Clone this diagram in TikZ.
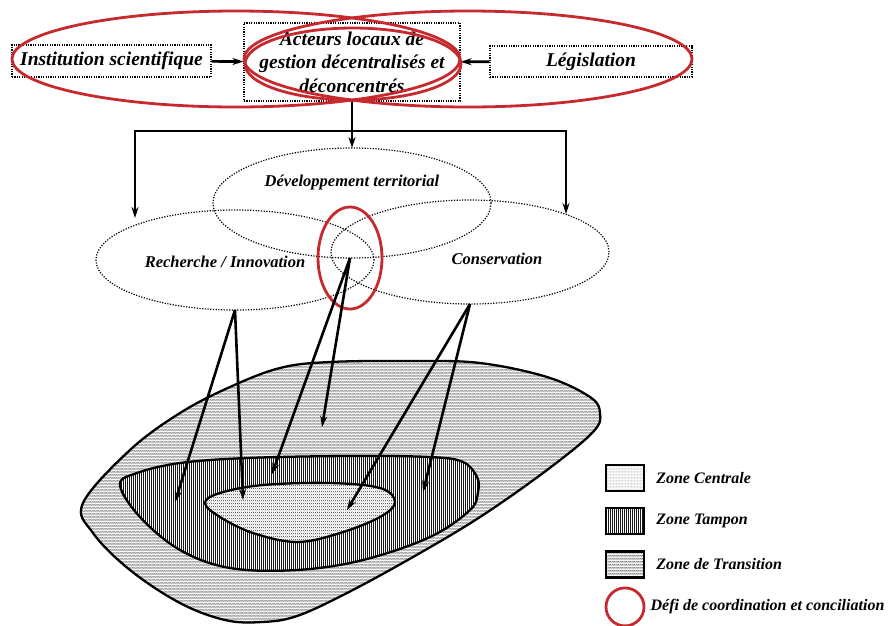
\documentclass[tikz,border=0pt]{standalone}
\usepackage{fontspec}
\setmainfont{Liberation Serif}
\usepackage{tikz}
\usetikzlibrary{arrows.meta,positioning,shapes.geometric,patterns.meta}
\definecolor{defired}{HTML}{C62A2F}
\tikzdeclarepattern{
  name=coredots, type=colored,
  bottom left={(0pt,0pt)}, top right={(3pt,3pt)}, tile size={(3pt,3pt)},
  code={
    \fill[black!5] (0pt,0pt) rectangle (3pt,3pt);
    \fill[black!60] (1.5pt,1.5pt) circle (0.45pt);
  }
}
\tikzdeclarepattern{
  name=bufferlines, type=colored,
  bottom left={(0pt,0pt)}, top right={(2.4pt,2.4pt)}, tile size={(2.4pt,2.4pt)},
  code={
    \fill[white] (0pt,0pt) rectangle (2.4pt,2.4pt);
    \fill[black!90] (0pt,0pt) rectangle (1pt,2.4pt);
  }
}
\tikzdeclarepattern{
  name=transwaves, type=colored,
  bottom left={(0pt,0pt)}, top right={(4pt,3pt)}, tile size={(4pt,3pt)},
  code={
    \fill[black!12] (0pt,0pt) rectangle (4pt,3pt);
    \draw[black!60,line width=0.45pt] (0pt,1pt) -- (1pt,2pt) -- (2pt,1pt) -- (3pt,2pt) -- (4pt,1pt);
  }
}
\tikzset{
  flowarrow/.style={-{Stealth[length=11pt,width=7pt]}, line width=2.6pt, draw=black},
  flowline/.style={line width=2.6pt, draw=black},
  actor/.style={draw=black, dash pattern=on 1.2pt off 1.2pt, line width=1.2pt,
    align=center, inner sep=2pt, font=\fontsize{19.5}{23.5}\selectfont\bfseries\itshape},
  area/.style={ellipse, draw=black, dash pattern=on 1.2pt off 1.5pt, line width=1.2pt,
    inner sep=0pt, outer sep=0pt},
  areatext/.style={font=\fontsize{16.5}{19}\selectfont\bfseries\itshape, inner sep=1pt},
  defi/.style={draw=defired, line width=2.8pt},
  zoneline/.style={draw=black, line width=2.3pt},
  legbox/.style={draw=black, line width=2.2pt, minimum width=38pt, minimum height=26pt,
    inner sep=0pt},
  legtext/.style={font=\fontsize{16}{19}\selectfont\bfseries\itshape, inner sep=1pt}
}
\begin{document}
\begin{tikzpicture}[x=1pt,y=-1pt]
  \useasboundingbox (0,0) rectangle (896,625);

  % actors
  \node[actor, minimum width=199pt, minimum height=32pt] (inst) at (111.5,61) {Institution scientifique};
  \node[actor, minimum width=216pt, minimum height=78pt] (act) at (352,62) {Acteurs locaux de\\gestion décentralisés et\\déconcentrés};
  \node[actor, minimum width=202pt, minimum height=31pt] (leg) at (591,61.5) {Législation};
  \draw[flowarrow] (inst) -- (act);
  \draw[flowarrow] (leg) -- (act);

  \draw[defi] (236,59) ellipse [x radius=224, y radius=48];
  \draw[defi] (468,59) ellipse [x radius=224, y radius=48];
  \draw[defi] (353,64) ellipse [x radius=108, y radius=36];

  % domains
  \node[area, minimum width=278pt, minimum height=110pt] (dev) at (352,203) {};
  \node[area, minimum width=278pt, minimum height=100pt] (rech) at (235,260) {};
  \node[area, minimum width=278pt, minimum height=104pt] (cons) at (470,252) {};
  \node[areatext] (devtext) at (352,183) {Développement territorial};
  \node[areatext] (rechtext) at (225,262) {Recherche / Innovation};
  \node[areatext] (constext) at (497,259) {Conservation};
  \node[defi, ellipse, minimum width=64pt, minimum height=102pt, inner sep=0pt] (defi) at (350,258) {};

  \coordinate (split) at (352,131);
  \coordinate (rechin) at (135,218);
  \coordinate (consin) at (566,214);
  \draw[flowline] (act.south) -- (split);
  \draw[flowarrow] (split) -- (dev.north);
  \draw[flowarrow] (split) -| (rechin);
  \draw[flowarrow] (split) -| (consin);

  % zones
  \draw[zoneline, pattern=transwaves] plot[smooth cycle, tension=0.6] coordinates {
    (83,503) (130,450) (180,413) (230,387) (280,368) (330,362) (413,361)
    (480,363) (547,377) (590,397) (600,413) (593,432) (547,470) (480,517)
    (413,557) (347,593) (297,616) (262,622) (225,620) (180,603) (130,570) (93,533)};
  \draw[zoneline, pattern=bufferlines] plot[smooth cycle, tension=0.6] coordinates {
    (120,485) (137,473) (180,463) (247,458) (347,456) (430,457) (463,462)
    (477,477) (478,492) (470,510) (430,537) (363,560) (297,570) (230,568)
    (180,550) (140,517)};
  \draw[zoneline, pattern=coredots] plot[smooth cycle, tension=0.6] coordinates {
    (205,503) (220,493) (263,485) (330,483) (380,488) (395,502) (380,517)
    (340,533) (297,542) (253,533) (220,517)};

  \coordinate (t1) at (175,502);
  \coordinate (t2) at (243,500);
  \coordinate (t3) at (272,474);
  \coordinate (t4) at (322,427);
  \coordinate (t5) at (347,510);
  \coordinate (t6) at (423,492);
  \draw[flowarrow] (rech.south) -- (t1);
  \draw[flowarrow] (rech.south) -- (t2);
  \draw[flowarrow] (defi.center) -- (t3);
  \draw[flowarrow] (defi.center) -- (t4);
  \draw[flowarrow] (cons.south) -- (t5);
  \draw[flowarrow] (cons.south) -- (t6);

  % legend
  \node[legbox, pattern=coredots] (lcore) at (625,478) {};
  \node[legbox, pattern=bufferlines, below=15pt of lcore] (lbuf) {};
  \node[legbox, pattern=transwaves, below=15pt of lbuf] (ltrans) {};
  \node[defi, circle, minimum size=38pt, inner sep=0pt, below=8pt of ltrans] (ldefi) {};
  \node[legtext, right=10pt of lcore] (lcoretext) {Zone Centrale};
  \node[legtext, right=10pt of lbuf] (lbuftext) {Zone Tampon};
  \node[legtext, right=10pt of ltrans] (ltranstext) {Zone de Transition};
  \node[legtext, right=4pt of ldefi] (lditext) {Défi de coordination et conciliation};
\end{tikzpicture}
\end{document}
